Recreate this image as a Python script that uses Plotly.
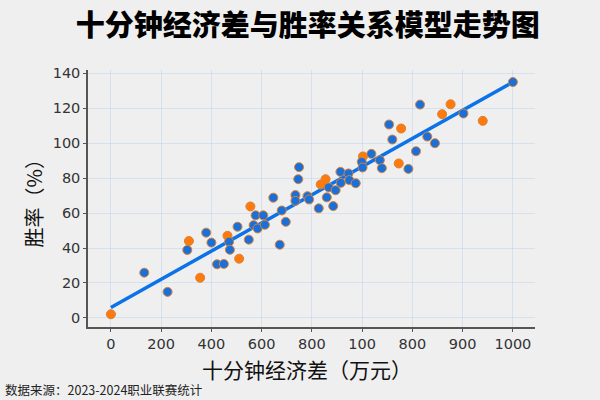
import plotly.graph_objects as go

# Data (x in axis units, y = win rate %)
blue_x = [83, 141, 190, 237, 250, 264, 281, 294, 296, 315, 343, 360, 355, 365, 379, 383,
          404, 420, 425, 435, 468, 466, 459, 459, 489, 493, 517, 537, 542, 553, 559, 571,
          572, 591, 593, 609, 624, 626, 648, 669, 674, 692, 700, 740, 759, 769, 787, 806,
          877, 1000]
blue_y = [25.9, 14.9, 38.9, 48.8, 43.1, 30.7, 30.9, 43.6, 39.0, 52.2, 44.8, 58.7, 53.1, 51.2, 58.7, 53.3,
          68.8, 41.9, 61.5, 55.0, 86.3, 79.4, 70.3, 67.0, 69.7, 67.8, 62.7, 69.0, 74.7, 64.0, 73.1, 83.6,
          77.3, 82.7, 78.9, 77.1, 89.3, 86.1, 93.9, 90.3, 85.7, 110.7, 102.1, 85.3, 95.4, 122.1, 103.8, 100.0,
          117.0, 135.0]

orange_x = [0, 222, 194, 290, 319, 347, 522, 534, 627, 722, 716, 824, 845, 925]
orange_y = [2.1, 23.0, 44.0, 47.0, 33.9, 63.8, 76.4, 79.4, 92.4, 108.4, 88.4, 116.6, 122.3, 112.8]

# trend line end points
trend_x = [0, 1000]
trend_y = [6, 135]

# tick labels as printed on the original
x_tickvals = [0, 125, 250, 375, 500, 625, 750, 875, 1000]
x_ticktext = ['0', '200', '400', '600', '800', '100', '800', '900', '1000']
y_tickvals = [0, 20, 40, 60, 80, 100, 120, 140]

BG = '#efefef'
BLUE = '#1a6fd8'
ORANGE = '#ff7a0d'
EDGE = '#d88236'
CJK = 'Noto Sans CJK SC'
TICKFONT = 'DejaVu Sans'
GRID = 'rgba(170,200,240,0.35)'

fig = go.Figure()

fig.add_trace(go.Scatter(
        x=trend_x, y=trend_y,
        mode='lines',
        line=dict(color='#0b72e7', width=3.5),
        hoverinfo='skip',
        showlegend=False
        ))

fig.add_trace(go.Scatter(
        x=orange_x, y=orange_y,
        mode='markers',
        marker=dict(color=ORANGE, size=9, line=dict(color=EDGE, width=1)),
        showlegend=False
        ))

fig.add_trace(go.Scatter(
        x=blue_x, y=blue_y,
        mode='markers',
        marker=dict(color=BLUE, size=9, line=dict(color=EDGE, width=1)),
        showlegend=False
        ))

axis_common = dict(
        tickfont=dict(family=TICKFONT, size=14.5, color='#333333'),
        ticks='outside', ticklen=3, tickcolor='#555555',
        showline=True, linecolor='#555555', linewidth=1.5,
        showgrid=True, gridcolor=GRID, gridwidth=1,
        zeroline=False,
        automargin=False
        )

fig.update_layout(
        width=600,
        height=400,
        margin=dict(l=88, r=65, t=70, b=73),
        paper_bgcolor=BG,
        plot_bgcolor=BG,
        title=dict(
                text='十分钟经济差与胜率关系模型走势图',
                x=0.513, xanchor='center',
                y=0.935, yanchor='middle',
                font=dict(family=CJK, size=29, color='#000000', weight=900)
                ),
        xaxis=dict(range=[-57, 1055], tickvals=x_tickvals, ticktext=x_ticktext, **axis_common),
        yaxis=dict(range=[-5.2, 141.9], tickvals=y_tickvals, **axis_common),
        annotations=[
                dict(text='十分钟经济差（万元）',
                     xref='paper', yref='paper', x=0.49, y=-0.162,
                     xanchor='center', yanchor='middle', showarrow=False,
                     font=dict(family=CJK, size=21, color='#111111')),
                dict(text='胜率（%）',
                     xref='paper', yref='paper', x=-0.121, y=0.5,
                     xanchor='center', yanchor='middle', showarrow=False,
                     textangle=-90,
                     font=dict(family=CJK, size=20, color='#111111')),
                dict(text='数据来源：2023-2024职业联赛统计',
                     xref='paper', yref='paper', x=-0.19, y=-0.245,
                     xanchor='left', yanchor='middle', showarrow=False,
                     font=dict(family=CJK, size=12.5, color='#222222'))
                ]
        )

# drop the default page margin so the figure sits at the window corner
fig.write_html('out.html', config=dict(displayModeBar=False),
               post_script="document.body.style.margin='0';")
